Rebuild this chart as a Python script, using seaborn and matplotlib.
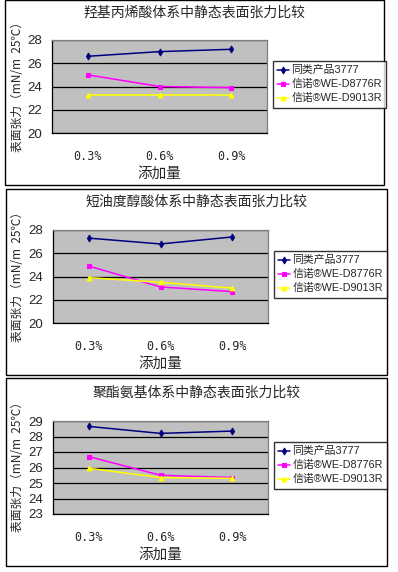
import pandas as pd
import matplotlib.pyplot as plt
import seaborn as sns
from matplotlib.patches import Rectangle

# ---- data ----
doses = ["0.3%", "0.6%", "0.9%"]
series_names = ["同类产品3777", "信诺®WE-D8776R", "信诺®WE-D9013R"]

titles = ["羟基丙烯酸体系中静态表面张力比较",
          "短油度醇酸体系中静态表面张力比较",
          "聚酯氨基体系中静态表面张力比较"]

acrylic_3777 = [26.6, 27.0, 27.2]
acrylic_8776 = [25.0, 24.0, 23.9]
acrylic_9013 = [23.3, 23.3, 23.3]

alkyd_3777 = [27.3, 26.8, 27.4]
alkyd_8776 = [24.9, 23.1, 22.7]
alkyd_9013 = [23.9, 23.5, 23.0]

polyester_3777 = [28.65, 28.2, 28.35]
polyester_8776 = [26.7, 25.5, 25.35]
polyester_9013 = [25.95, 25.35, 25.3]

panels = [
    (acrylic_3777, acrylic_8776, acrylic_9013),
    (alkyd_3777, alkyd_8776, alkyd_9013),
    (polyester_3777, polyester_8776, polyester_9013),
]
y_ranges = [(20, 28, 2), (20, 28, 2), (23, 29, 1)]

# ---- style ----
sns.set_style("white")
plt.rcParams['font.family'] = ['Noto Sans CJK SC', 'DejaVu Sans']
plt.rcParams['axes.unicode_minus'] = False
legend_family = ['Liberation Sans', 'Noto Sans CJK SC', 'DejaVu Sans']

colors = ["#000080", "#FF00FF", "#FFFF00"]
markers = ["d", "s", "^"]
msizes = [3.5, 3.2, 3.5]

W, H = 398, 572
fig = plt.figure(figsize=(W / 100, H / 100), dpi=100)
fig.patch.set_facecolor("white")

# pixel layouts: frame box, plot area, legend top-left, title y
frames = [(4.5, 0.5, 384, 185), (6, 189, 387, 375), (6, 378, 387, 566)]
plots = [(52, 40, 267, 133), (53, 230, 268, 323), (53, 421, 268, 514)]
legends = [(273, 61), (274, 251), (274, 442)]
title_y = [13, 202, 393]


def fx(px):
    return px / W


def fy(py):
    return 1 - py / H


for i, (vals, (ymin, ymax, ystep)) in enumerate(zip(panels, y_ranges)):
    # outer frame of each chart
    x0, y0, x1, y1 = frames[i]
    fig.patches.append(Rectangle((fx(x0), fy(y1)), fx(x1) - fx(x0), fy(y0) - fy(y1),
                                 transform=fig.transFigure, fill=False,
                                 edgecolor="black", linewidth=1.0))
    px0, py0, px1, py1 = plots[i]
    ax = fig.add_axes([fx(px0), fy(py1), fx(px1) - fx(px0), fy(py0) - fy(py1)])
    ax.set_facecolor("#C0C0C0")

    df = pd.DataFrame({
        "pos": list(range(len(doses))) * 3,
        "value": vals[0] + vals[1] + vals[2],
        "series": [s for s in series_names for _ in doses],
    })
    for k, name in enumerate(series_names):
        sub = df[df["series"] == name]
        sns.lineplot(data=sub, x="pos", y="value", color=colors[k], marker=markers[k],
                     markersize=msizes[k], markeredgecolor=colors[k], linewidth=1.1,
                     ax=ax, zorder=5, label=name)
    ax.get_legend().remove()
    handles, labels = ax.get_legend_handles_labels()

    # axes, ticks, grid
    ax.set_xlim(-0.5, 2.5)
    ax.set_ylim(ymin, ymax)
    yt = list(range(ymin, ymax + 1, ystep))
    ax.set_yticks(yt)
    ax.set_yticklabels([str(v) for v in yt], fontsize=9.5, family="Liberation Sans")
    ax.set_xticks([0, 1, 2])
    ax.set_xticklabels(doses, fontsize=8.5, family="DejaVu Sans Mono")
    ax.set_xticks([0.5, 1.5], minor=True)
    ax.tick_params(axis="x", which="major", length=0, pad=12)
    ax.tick_params(axis="x", which="minor", length=4, direction="in", width=0.8)
    ax.tick_params(axis="y", which="major", length=3, direction="out", width=0.8, pad=4)
    ax.yaxis.grid(True, color="black", linewidth=0.9)
    ax.set_axisbelow(True)
    for side in ["left", "bottom"]:
        ax.spines[side].set_color("black")
        ax.spines[side].set_linewidth(0.9)
    for side in ["top", "right"]:
        ax.spines[side].set_color("#808080")
        ax.spines[side].set_linewidth(0.9)
    ax.set_xlabel("添加量", fontsize=10.5, labelpad=3)
    ax.set_ylabel("")

    fig.text(fx((x0 + x1) / 2), fy(title_y[i]), titles[i], ha="center", va="center",
             fontsize=10)
    fig.text(fx(18), fy((py0 + py1) / 2 - 3), "表面张力（mN/m  25℃）", rotation=90,
             ha="center", va="center", fontsize=8.5)

    # legend box to the right of the plot
    lx, ly = legends[i]
    leg = fig.legend(handles, labels, loc="upper left",
                     bbox_to_anchor=(fx(lx), fy(ly)), bbox_transform=fig.transFigure,
                     prop={"family": legend_family, "size": 7.8},
                     frameon=True, fancybox=False, borderpad=0.4,
                     handlelength=1.1, handletextpad=0.2, labelspacing=0.35,
                     borderaxespad=0)
    leg.get_frame().set_edgecolor("black")
    leg.get_frame().set_linewidth(1.0)

fig.savefig("out.png", dpi=100)
